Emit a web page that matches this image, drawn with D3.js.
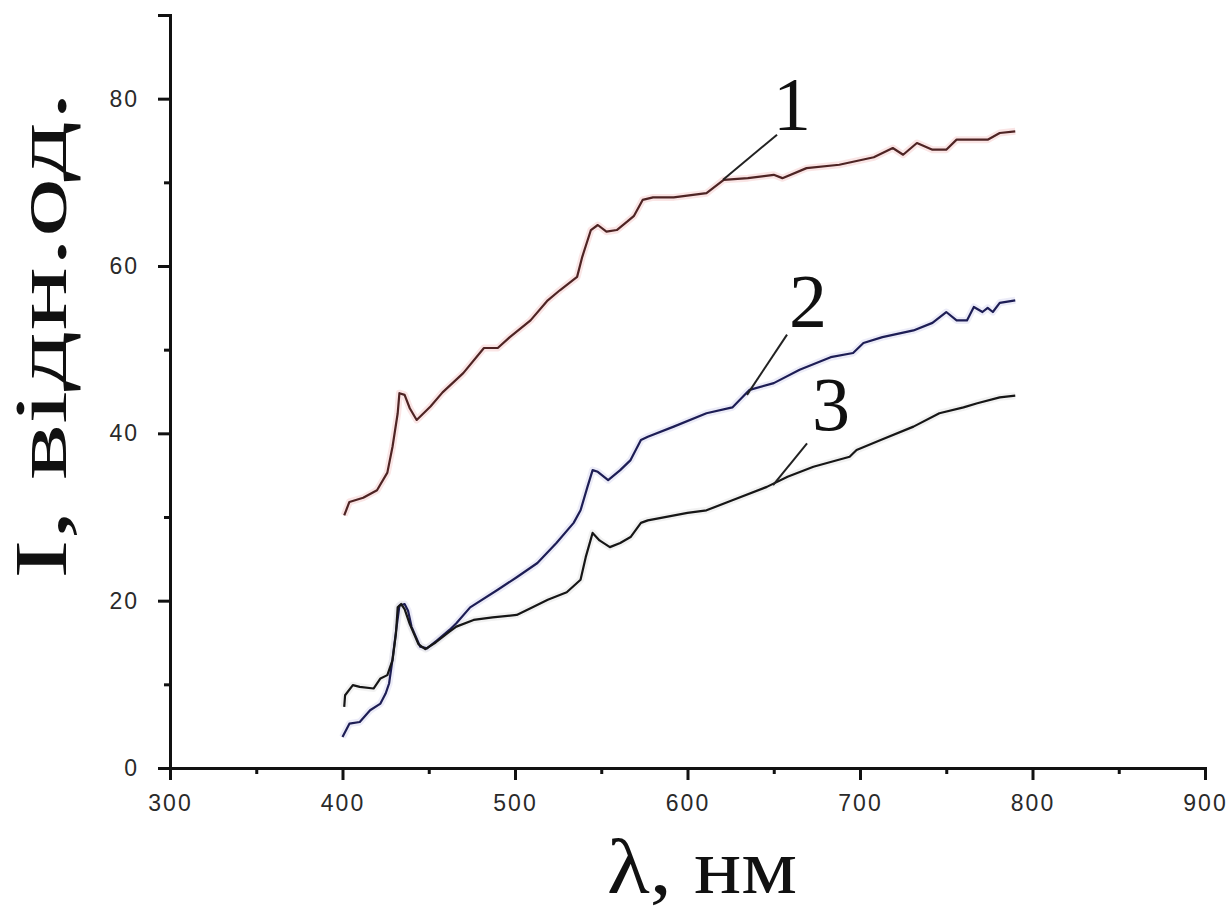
<!DOCTYPE html>
<html lang="en">
<head>
  <meta charset="utf-8">
  <script src="https://d3js.org/d3.v7.min.js"></script>
  <style>
    body { margin: 0; background: #fff; }
    .tick text { font-family: "Liberation Sans", Arial, sans-serif; font-size: 23px; fill: #2a2a2a; letter-spacing: 2px; }
  </style>
</head>
<body>
<script>
  // spectra
  const wl1 = [401, 404, 412, 420, 426, 429, 432, 433, 436, 439, 443, 451, 458, 470, 482, 490, 497, 509, 519, 526, 536, 539, 544, 548, 553, 559, 565, 569, 574, 580, 592, 611, 621, 635, 650, 655, 669, 688, 708, 719, 725, 733, 742, 750, 756, 774, 781, 790];
  const int1 = [30.2, 31.8, 32.3, 33.2, 35.3, 38.4, 42.4, 44.8, 44.6, 43.0, 41.6, 43.2, 44.9, 47.2, 50.2, 50.2, 51.5, 53.5, 55.9, 57.1, 58.7, 61.1, 64.3, 64.9, 64.1, 64.3, 65.3, 66.0, 67.9, 68.2, 68.2, 68.7, 70.3, 70.5, 70.9, 70.5, 71.7, 72.1, 73.0, 74.1, 73.3, 74.7, 73.9, 73.9, 75.1, 75.1, 75.9, 76.1];

  const wl2 = [400, 404, 410, 416, 422, 425, 427, 429, 431, 433, 436, 438, 440, 445, 449, 455, 462, 466, 474, 490, 501, 513, 524, 534, 538, 542, 545, 548, 554, 561, 567, 573, 577, 592, 611, 626, 636, 650, 665, 683, 696, 702, 713, 731, 742, 750, 756, 762, 766, 771, 774, 777, 781, 790];
  const int2 = [3.7, 5.3, 5.5, 6.9, 7.7, 8.9, 10.1, 13.0, 16.3, 19.4, 19.6, 18.8, 16.9, 14.5, 14.3, 15.3, 16.5, 17.3, 19.2, 21.3, 22.8, 24.5, 26.9, 29.3, 30.8, 33.6, 35.6, 35.4, 34.4, 35.6, 36.8, 39.2, 39.6, 40.8, 42.4, 43.1, 45.2, 46.0, 47.6, 49.1, 49.6, 50.8, 51.5, 52.3, 53.2, 54.5, 53.5, 53.5, 55.1, 54.5, 55.0, 54.5, 55.6, 55.9];

  const wl3 = [401, 401.5, 406, 410, 418, 422, 426, 429, 431, 432, 434, 436, 439, 444, 448, 454, 462, 466, 476, 487, 501, 509, 519, 530, 538, 541, 545, 549, 555, 561, 567, 573, 577, 600, 611, 626, 646, 658, 673, 694, 698, 712, 731, 746, 760, 768, 781, 790];
  const int3 = [7.3, 8.7, 9.9, 9.7, 9.5, 10.7, 11.1, 12.9, 16.1, 19.2, 19.6, 19.0, 17.2, 14.8, 14.2, 15.0, 16.3, 16.9, 17.7, 18.0, 18.3, 19.1, 20.1, 21.0, 22.5, 25.2, 28.1, 27.2, 26.4, 26.9, 27.6, 29.3, 29.6, 30.5, 30.8, 32.0, 33.6, 34.8, 36.0, 37.2, 38.0, 39.2, 40.8, 42.4, 43.1, 43.6, 44.3, 44.5];

  // curve labels: text, pointer start (on curve), pointer end, label anchor
  const curveLabels = ["1", "2", "3"];
  const pointerFrom = [[620.6, 70.3], [634.5, 44.6], [649.6, 33.8]];
  const pointerTo = [[651.9, 75.7], [657.7, 51.8], [669.3, 38.8]];
  const labelAt = [[660.6, 76.3], [669.9, 52.7], [683.2, 40.4]];

  const xMajor = [300, 400, 500, 600, 700, 800, 900];
  const yMajor = [0, 20, 40, 60, 80];

  const width = 1231, height = 909;

  const svg = d3.select("body").append("svg")
    .attr("width", width)
    .attr("height", height);

  const x = d3.scaleLinear().domain([300, 900]).range([170, 1205]);
  const y = d3.scaleLinear().domain([0, 90]).range([768, 15]);

  // x axis with minor ticks every 50
  const xAll = d3.range(300, 901, 50);
  const xAxis = svg.append("g")
    .attr("transform", "translate(0,768)")
    .call(d3.axisBottom(x).tickValues(xAll).tickSizeOuter(0).tickSize(12).tickPadding(15)
      .tickFormat(d => xMajor.includes(d) ? d : ""));
  xAxis.selectAll(".tick line").attr("y2", d => xMajor.includes(d) ? 12 : 6);

  // y axis with minor ticks every 10
  const yAll = d3.range(0, 91, 10);
  const yAxis = svg.append("g")
    .attr("transform", "translate(170,0)")
    .call(d3.axisLeft(y).tickValues(yAll).tickSizeOuter(0).tickSize(12).tickPadding(19)
      .tickFormat(d => yMajor.includes(d) ? d : ""));
  yAxis.selectAll(".tick line").attr("x2", d => yMajor.includes(d) ? -12 : -6);

  svg.selectAll(".domain").attr("stroke", "#111").attr("stroke-width", 3);
  svg.selectAll(".tick line").attr("stroke", "#111").attr("stroke-width", 3);

  const line = d3.line()
    .x(d => x(d[0]))
    .y(d => y(d[1]));

  const series = [
    { pts: d3.zip(wl1, int1), color: "#4e2424", halo: "#f3c6c6" },
    { pts: d3.zip(wl2, int2), color: "#1d1d55", halo: "#d4d4f0" },
    { pts: d3.zip(wl3, int3), color: "#161616", halo: "#e2e2e2" }
  ];

  // soft halo like the original scan, then the line itself
  series.forEach(s => {
    svg.append("path")
      .datum(s.pts)
      .attr("fill", "none")
      .attr("stroke", s.halo)
      .attr("stroke-width", 7)
      .attr("stroke-opacity", 0.45)
      .attr("stroke-linejoin", "round")
      .attr("d", line);
  });
  series.forEach(s => {
    svg.append("path")
      .datum(s.pts)
      .attr("fill", "none")
      .attr("stroke", s.color)
      .attr("stroke-width", 2.2)
      .attr("stroke-linejoin", "round")
      .attr("d", line);
  });

  // pointer lines and curve numbers
  curveLabels.forEach((t, i) => {
    svg.append("line")
      .attr("x1", x(pointerFrom[i][0])).attr("y1", y(pointerFrom[i][1]))
      .attr("x2", x(pointerTo[i][0])).attr("y2", y(pointerTo[i][1]))
      .attr("stroke", "#222")
      .attr("stroke-width", 2);
    svg.append("text")
      .attr("x", x(labelAt[i][0]))
      .attr("y", y(labelAt[i][1]))
      .attr("text-anchor", "middle")
      .attr("font-family", "Liberation Serif, 'Times New Roman', serif")
      .attr("font-size", 76)
      .attr("fill", "#111")
      .text(t);
  });

  // axis titles
  svg.append("text")
    .attr("x", 702)
    .attr("y", 893)
    .attr("text-anchor", "middle")
    .attr("font-family", "Liberation Serif, 'Times New Roman', serif")
    .attr("font-size", 78)
    .attr("fill", "#111")
    .attr("textLength", 190)
    .attr("lengthAdjust", "spacingAndGlyphs")
    .text("λ, нм");

  svg.append("text")
    .attr("transform", "translate(66,335) rotate(-90)")
    .attr("text-anchor", "middle")
    .attr("font-family", "Liberation Serif, 'Times New Roman', serif")
    .attr("font-size", 74)
    .attr("fill", "#111")
    .attr("textLength", 488)
    .attr("lengthAdjust", "spacingAndGlyphs")
    .text("I, вiдн.од.");
</script>
</body>
</html>
